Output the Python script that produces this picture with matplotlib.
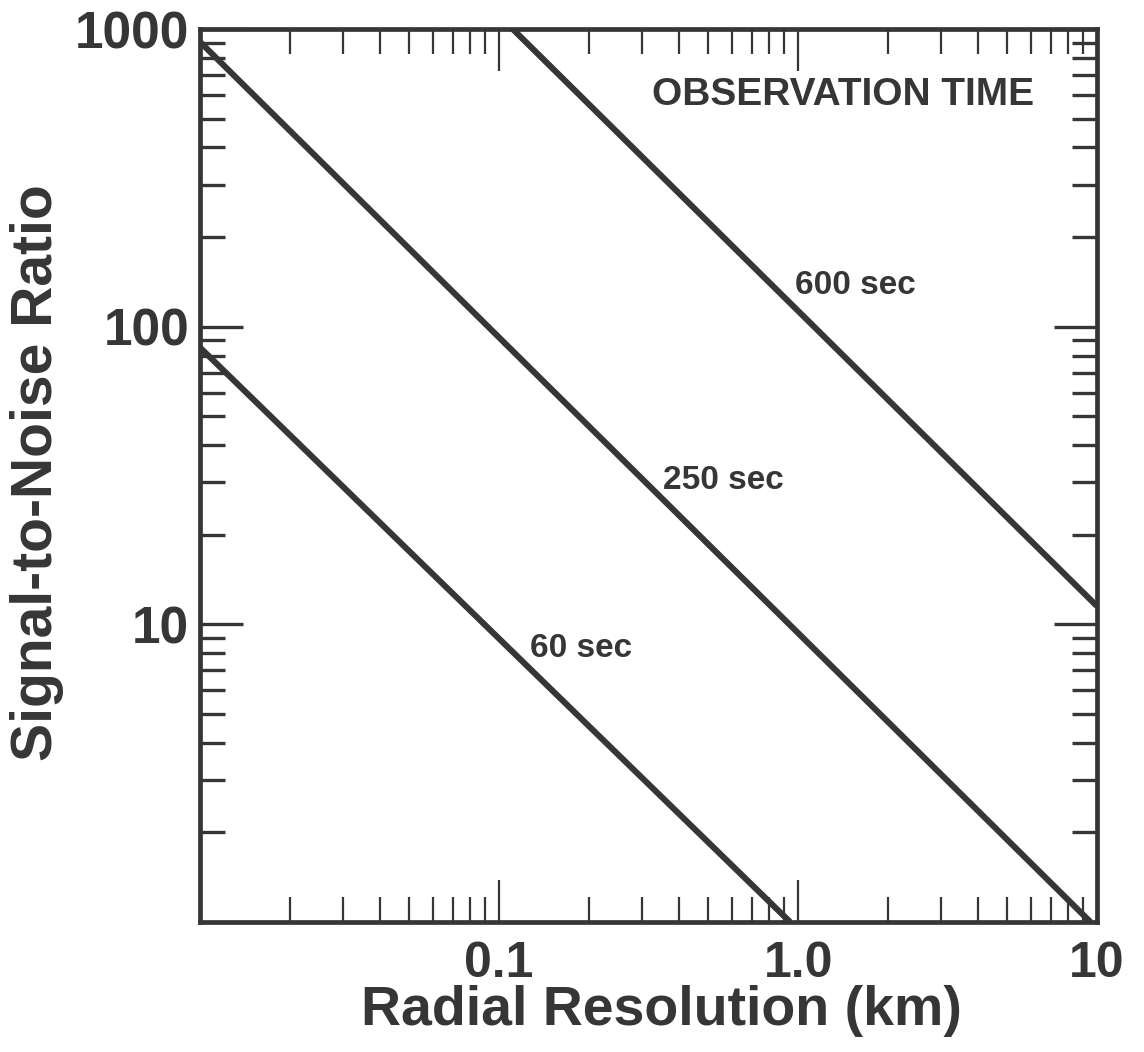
import numpy as np
import matplotlib
matplotlib.use("Agg")
import matplotlib.pyplot as plt
from matplotlib.ticker import LogLocator, FixedLocator, NullFormatter

plt.rcParams["font.family"] = ["Liberation Sans", "DejaVu Sans"]
plt.rcParams["font.weight"] = "bold"

INK = "#363636"

# line end points (radial resolution km, SNR)
obs_times = ["60 sec", "250 sec", "600 sec"]
res_60 = [0.01, 0.94]
snr_60 = [85, 1.0]
res_250 = [0.01, 9.5]
snr_250 = [904, 1.0]
res_600 = [0.111, 10.0]
snr_600 = [1000, 11.5]

# label anchors (left edge, centre)
lab_x = [0.127, 0.354, 0.977]
lab_y = [8.3, 30.5, 138]

x_ticks = [0.1, 1.0, 10]
x_ticklabels = ["0.1", "1.0", "10"]
y_ticks = [10, 100, 1000]
y_ticklabels = ["10", "100", "1000"]

fig = plt.figure(figsize=(11.44, 10.52), dpi=100)
ax = fig.add_axes([0.175, 0.1236, 0.784, 0.8488])

for xs, ys in [(res_60, snr_60), (res_250, snr_250), (res_600, snr_600)]:
    ax.plot(xs, ys, color=INK, lw=4.4, solid_capstyle="butt")

for name, x, y in zip(obs_times, lab_x, lab_y):
    ax.text(x, y, name, ha="left", va="center", fontsize=24, color=INK, fontweight="bold")

ax.text(0.325, 600, "OBSERVATION TIME", ha="left", va="center", fontsize=28,
        color=INK, fontweight="bold")

ax.set_xscale("log")
ax.set_yscale("log")
ax.set_xlim(0.01, 10)
ax.set_ylim(1, 1000)

ax.xaxis.set_major_locator(FixedLocator(x_ticks))
ax.xaxis.set_minor_locator(LogLocator(base=10, subs=np.arange(2, 10), numticks=20))
ax.yaxis.set_major_locator(FixedLocator(y_ticks))
ax.yaxis.set_minor_locator(LogLocator(base=10, subs=np.arange(2, 10), numticks=20))
ax.set_xticklabels(x_ticklabels)
ax.set_yticklabels(y_ticklabels)
ax.xaxis.set_minor_formatter(NullFormatter())
ax.yaxis.set_minor_formatter(NullFormatter())

ax.tick_params(axis="both", which="both", direction="in", top=True, right=True, colors=INK)
ax.tick_params(axis="x", which="major", length=30, width=1.6, pad=14, labelsize=36)
ax.tick_params(axis="x", which="minor", length=18, width=1.6)
ax.tick_params(axis="y", which="major", length=31, width=2.4, pad=8, labelsize=37)
ax.tick_params(axis="y", which="minor", length=18, width=2.4)
for lab in ax.get_xticklabels() + ax.get_yticklabels():
    lab.set_fontweight("bold")

for sp in ax.spines.values():
    sp.set_linewidth(3.4)
    sp.set_color(INK)

ax.set_xlabel("Radial Resolution (km)", fontsize=40, fontweight="bold", color=INK)
ax.set_ylabel("Signal-to-Noise Ratio", fontsize=41, fontweight="bold", color=INK)
ax.xaxis.set_label_coords(0.514, -0.071)
ax.yaxis.set_label_coords(-0.152, 0.503)

fig.savefig("out.png", dpi=100, facecolor="white")
